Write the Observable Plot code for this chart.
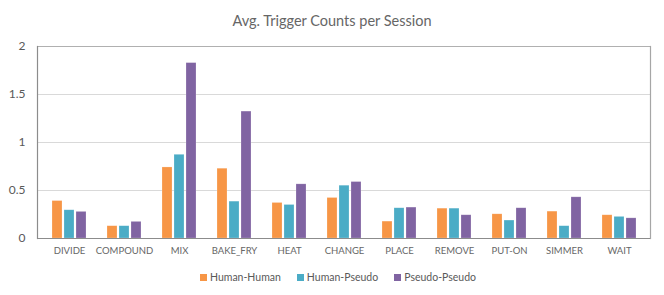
<!DOCTYPE html>
<html>
<head>
<meta charset="utf-8">
<script src="https://cdn.jsdelivr.net/npm/d3@7"></script>
<script src="https://cdn.jsdelivr.net/npm/@observablehq/plot@0.6"></script>
<style>
  body { margin: 0; background: #fff; font-family: Lato, "Open Sans", sans-serif; }
  #wrap { width: 664px; }
  #title { height: 36px; line-height: 42px; text-align: center; font-size: 14.5px; color: #666; }
  #legend { height: 24px; display: flex; justify-content: center; align-items: center; font-size: 10.5px; color: #595959; padding-left: 12px; padding-top: 2px; box-sizing: border-box; }
  .item { display: flex; align-items: center; margin: 0 8px; }
  .sw { width: 7px; height: 7px; margin-right: 3px; }
  svg { display: block; }
</style>
</head>
<body>
<div id="wrap">
  <div id="title">Avg. Trigger Counts per Session</div>
  <div id="chart"></div>
  <div id="legend"></div>
</div>
<script>
const categories = ["DIVIDE","COMPOUND","MIX","BAKE_FRY","HEAT","CHANGE","PLACE","REMOVE","PUT-ON","SIMMER","WAIT"];
const seriesNames = ["Human-Human","Human-Pseudo","Pseudo-Pseudo"];
const humanHuman   = [0.39, 0.128, 0.74, 0.727, 0.37, 0.422, 0.176, 0.311, 0.252, 0.28, 0.242];
const humanPseudo  = [0.294, 0.128, 0.872, 0.384, 0.349, 0.55, 0.315, 0.311, 0.187, 0.128, 0.225];
const pseudoPseudo = [0.277, 0.173, 1.827, 1.322, 0.564, 0.588, 0.322, 0.242, 0.315, 0.429, 0.21];
const yTicks = [0, 0.5, 1, 1.5, 2];
const colors = ["#F79646", "#4BACC6", "#8064A2"];

const seriesValues = [humanHuman, humanPseudo, pseudoPseudo];
const offsets = [-12, 0, 12];
const tables = seriesValues.map((vals, i) => categories.map((c, j) => ({category: c, series: seriesNames[i], value: vals[j]})));

const chart = Plot.plot({
  width: 664,
  height: 228,
  marginLeft: 37,
  marginRight: 14,
  marginTop: 10,
  marginBottom: 26,
  style: {fontFamily: "Lato, 'Open Sans', sans-serif", color: "#595959", background: "#fff"},
  x: {domain: categories, paddingInner: 0.82, paddingOuter: 0.41, label: null},
  y: {domain: [0, 2], label: null},
  marks: [
    Plot.ruleY(yTicks.filter(d => d > 0 && d < 2), {stroke: "#d9d9d9", strokeWidth: 1}),
    Plot.ruleY([2], {stroke: "#b0b0b0", strokeWidth: 1.2}),
    ...tables.map((t, i) => Plot.barY(t, {x: "category", y: "value", fill: colors[i], dx: offsets[i], stroke: "#fff", strokeOpacity: 0.35, strokeWidth: 0.6})),
    Plot.frame({anchor: "right", stroke: "#a6a6a6", strokeWidth: 1.2}),
    Plot.frame({anchor: "left", stroke: "#8c8c8c", strokeWidth: 1.2}),
    Plot.ruleY([0], {stroke: "#8c8c8c", strokeWidth: 1.2}),
    Plot.axisY({ticks: yTicks, tickSize: 0, tickPadding: 12, tickFormat: d => String(d), fontSize: 12, fill: "#595959", label: null}),
    Plot.axisX({tickSize: 0, tickPadding: 9, fontSize: 9.5, fill: "#666", label: null})
  ]
});
document.getElementById("chart").appendChild(chart);

const legend = document.getElementById("legend");
seriesNames.forEach((n, i) => {
  const it = document.createElement("div");
  it.className = "item";
  const sw = document.createElement("span");
  sw.className = "sw";
  sw.style.background = colors[i];
  const tx = document.createElement("span");
  tx.textContent = n;
  it.appendChild(sw); it.appendChild(tx);
  legend.appendChild(it);
});
</script>
</body>
</html>
